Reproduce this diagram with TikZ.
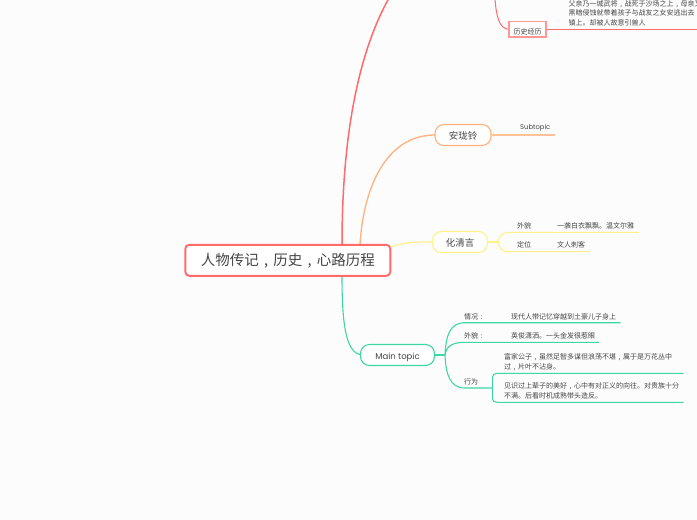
\documentclass[tikz,border=0pt]{standalone}
\usepackage{fontspec}
\setmainfont{Noto Sans CJK SC}
\newfontfamily\latinfont{Poppins}
\usepackage{tikz}
\usetikzlibrary{positioning, shapes.geometric}
\definecolor{rootred}{HTML}{FF6B6B}
\definecolor{peach}{HTML}{FFB27A}
\definecolor{butter}{HTML}{FFF08A}
\definecolor{mint}{HTML}{3FD6A5}
\definecolor{ink}{HTML}{454545}
\newcommand{\cma}{\makebox[1em][c]{,}}
\newcommand{\cln}{\makebox[1em][c]{:}}
\tikzset{
  topic/.style={draw, rounded corners=9pt, line width=1.1pt, fill=white, text=ink, font=\fontsize{9.5}{11}\selectfont, minimum height=21pt, inner sep=0pt, text height=1.1em, text depth=.12em},
  leaf/.style={text=ink, font=\fontsize{7}{9.7}\selectfont, inner sep=0pt, align=left, anchor=west},
  redline/.style={rootred, line width=1.5pt},
  peachline/.style={peach, line width=1.3pt},
  butterline/.style={butter, line width=1.2pt},
  mintline/.style={mint, line width=1.1pt},
}
\begin{document}
\begin{tikzpicture}[x=1pt, y=-1pt]
    \path[use as bounding box, fill=white!99!black] (0, 0) rectangle (697, 520);

    \coordinate (redroot) at (342, 245);
    \coordinate (peachroot) at (360, 245);
    \coordinate (butterroot) at (391, 246.7);
    \coordinate (mintroot) at (342, 276);
    \coordinate (upred) at (389, -2);
    \coordinate (uphist) at (495, -2);
    \coordinate (histend) at (697, 29.3);
    \coordinate (subend) at (555, 135);

    \draw[redline] (redroot) .. controls (342, 130) and (360, 50) .. (upred);
    \draw[peachline] (peachroot) .. controls (363, 190) and (385, 135) .. (435, 135);
    \draw[butterline] (butterroot) .. controls (405, 242) and (415, 242) .. (433, 242);
    \draw[mintline] (mintroot) .. controls (342, 330) and (347, 352) .. (361, 355);

    \node[topic, draw=rootred, line width=1.9pt, rounded corners=4pt, minimum width=205pt, minimum height=31pt, font=\fontsize{14.5}{16}\selectfont] at (287.8, 260.3) (root) {人物传记\cma 历史\cma 心路历程};
    \node[topic, draw=peach, minimum width=56pt] at (463, 135) (anling) {安珑铃};
    \node[topic, draw=butter, minimum width=55pt] at (460, 242) (hua) {化清言};
    \node[topic, draw=mint, minimum width=74pt, font=\latinfont\fontsize{8.5}{10}\selectfont] at (397.5, 355) (main) {Main topic};

    \draw[rootred, line width=1pt] (uphist) .. controls (496, 15) and (499, 29.3) .. (509, 29.3);
    \draw[rootred, line width=1.1pt] (546, 29.3) -- (histend);
    \node[draw=rootred!70, line width=1.3pt, fill=white, text=ink, font=\fontsize{7}{9}\selectfont, minimum width=37pt, minimum height=15.5pt, inner sep=0pt, text height=1.1em, text depth=.12em] at (527.5, 29.3) (history) {历史经历};
    \draw[peachline, peach!80] (anling.east) -- (subend);

    \node[leaf, font=\latinfont\fontsize{6.8}{8}\selectfont] at (520, 128) (sub) {Subtopic};

    % hua qing yan
    \coordinate (huafork) at (498.3, 242);
    \coordinate (waiend) at (639, 232.3);
    \coordinate (dingend) at (590, 251.7);
    \node[leaf] at (517, 225.5) (wai) {外貌};
    \node[leaf] at (557, 225.5) (waitxt) {一袭白衣飘飘。温文尔雅};
    \node[leaf] at (517, 244.5) (ding) {定位};
    \node[leaf] at (557, 244.5) (dingtxt) {文人刺客};
    \draw[butterline] (hua.east) -- (huafork);
    \draw[butterline, line width=1pt] (huafork) .. controls (498.3, 236) and (502, 232.3) .. (510, 232.3) -- (waiend);
    \draw[butterline, line width=1pt] (huafork) .. controls (498.3, 248) and (502, 251.7) .. (510, 251.7) -- (dingend);

    % main topic
    \coordinate (mainfork) at (445, 355);
    \coordinate (qingend) at (620.5, 322.7);
    \coordinate (maoend) at (599, 342.3);
    \coordinate (xingend) at (492.3, 388);
    \coordinate (oneend) at (683.5, 373.3);
    \coordinate (twoend) at (683.5, 402.3);
    \node[leaf] at (464, 316.7) (qing) {情况\cln};
    \node[leaf] at (511, 316.7) (qingtxt) {现代人带记忆穿越到土豪儿子身上};
    \node[leaf] at (464, 336) (mao) {外貌\cln};
    \node[leaf] at (511, 336) (maotxt) {英俊潇洒。一头金发很惹眼};
    \node[leaf] at (464, 381.7) (xing) {行为};
    \node[leaf] at (504, 362) (xingone) {富家公子\cma 虽然足智多谋但浪荡不堪\cma 属于是万花丛中\\过\cma 片叶不沾身。};
    \node[leaf] at (504, 391) (xingtwo) {见识过上辈子的美好\cma 心中有对正义的向往。对贵族十分\\不满。后看时机成熟带头造反。};
    \draw[mintline] (main.east) -- (mainfork);
    \draw[mintline] (mainfork) .. controls (446, 335) and (450, 322.7) .. (465, 322.7) -- (qingend);
    \draw[mintline] (mainfork) .. controls (446, 348) and (450, 342.3) .. (465, 342.3) -- (maoend);
    \draw[mintline] (mainfork) .. controls (446, 375) and (450, 388) .. (465, 388) -- (xingend);
    \draw[mintline] (oneend) -- (497, 373.3) .. controls (494, 373.3) and (492.3, 375) .. (492.3, 378) -- (492.3, 398) .. controls (492.3, 401) and (494, 402.3) .. (497, 402.3) -- (twoend);

    % history text
    \node[leaf] at (568.5, 13.3) (histtxt) {父亲乃一城武将\cma 战死于沙场之上\cma 母亲又\\黑暗侵蚀就带着孩子与战友之女安逃出去\\镇上。却被人故意引兽人};
\end{tikzpicture}
\end{document}
